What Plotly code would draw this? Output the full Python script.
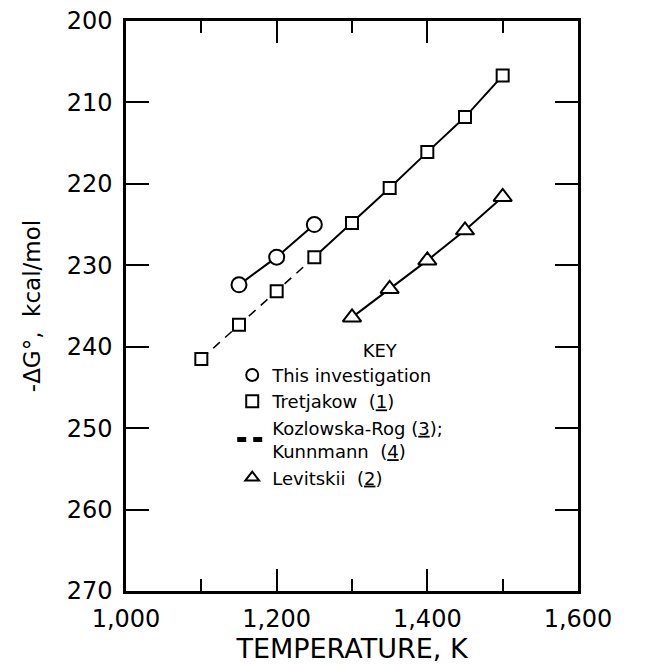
import plotly.graph_objects as go

# ---- data ----
temp_this = [1150, 1200, 1250]
dg_this = [232.4, 229.0, 225.0]

temp_tret = [1100, 1150, 1200, 1250, 1300, 1350, 1400, 1450, 1500]
dg_tret = [241.5, 237.3, 233.2, 229.0, 224.8, 220.5, 216.1, 211.8, 206.7]

# dashed portion (Kozlowska-Rog / Kunnmann) spans the first four Tretjakow points
n_dash = 4

temp_lev = [1300, 1350, 1400, 1450, 1500]
dg_lev = [236.4, 232.9, 229.4, 225.7, 221.6]

x_ticks = [1000, 1200, 1400, 1600]
x_ticktext = ["1,000", "1,200", "1,400", "1,600"]
y_ticks = [200, 210, 220, 230, 240, 250, 260, 270]

names = [
    "This investigation",
    "Tretjakow  (<u>1</u>)",
    "Kozlowska-Rog (<u>3</u>);<br>Kunnmann  (<u>4</u>)",
    "Levitskii  (<u>2</u>)",
]
key_title = "\u00a0" * 14 + "KEY"

FONT = "DejaVu Sans"
BLK = "black"

fig = go.Figure()

line_style = dict(color=BLK, width=2)

# connecting lines
fig.add_trace(go.Scatter(x=temp_this, y=dg_this, mode="lines", line=line_style,
                         showlegend=False, hoverinfo="skip"))
fig.add_trace(go.Scatter(x=temp_tret[n_dash - 1:], y=dg_tret[n_dash - 1:], mode="lines",
                         line=line_style, showlegend=False, hoverinfo="skip"))
fig.add_trace(go.Scatter(x=temp_tret[:n_dash], y=dg_tret[:n_dash], mode="lines",
                         line=dict(color=BLK, width=1.6, dash="9px,7px"),
                         name=names[2], legendrank=3))
fig.add_trace(go.Scatter(x=temp_lev, y=dg_lev, mode="lines", line=line_style,
                         showlegend=False, hoverinfo="skip"))

# markers
fig.add_trace(go.Scatter(x=temp_this, y=dg_this, mode="markers", name=names[0],
                         legendrank=1,
                         marker=dict(symbol="circle", size=15, color="white",
                                     line=dict(color=BLK, width=2))))
fig.add_trace(go.Scatter(x=temp_tret, y=dg_tret, mode="markers", name=names[1],
                         legendrank=2,
                         marker=dict(symbol="square", size=12, color="white",
                                     line=dict(color=BLK, width=2))))
fig.add_trace(go.Scatter(x=temp_lev, y=dg_lev, mode="markers", name=names[3],
                         legendrank=4,
                         marker=dict(symbol="triangle-up", size=16, color="white",
                                     line=dict(color=BLK, width=2))))

fig.update_layout(
    width=662, height=664,
    margin=dict(l=126, r=84, t=21, b=73, autoexpand=False),
    paper_bgcolor="white", plot_bgcolor="white",
    font=dict(family=FONT, size=24, color=BLK),
    legend=dict(
        x=0.235, y=0.452, xanchor="left", yanchor="top",
        bgcolor="rgba(0,0,0,0)", borderwidth=0,
        font=dict(size=18, family=FONT, color=BLK),
        title=dict(text=key_title, side="top center", font=dict(size=18, family=FONT)),
        itemsizing="constant",
        tracegroupgap=0,
    ),
    xaxis=dict(
        range=[1000, 1600], tickvals=x_ticks, ticktext=x_ticktext,
        ticks="inside", ticklen=22, tickwidth=2, tickcolor=BLK,
        showline=True, linewidth=2.5, linecolor=BLK, mirror="allticks",
        showgrid=False, zeroline=False, automargin=False,
        minor=dict(dtick=100, ticks="inside", ticklen=12, tickwidth=2,
                   tickcolor=BLK, showgrid=False),
        ticklabelstandoff=4,
        tickfont=dict(size=24),
        title=dict(text="TEMPERATURE, K", font=dict(size=27), standoff=11),
    ),
    yaxis=dict(
        range=[270, 200], tickvals=y_ticks,
        ticks="inside", ticklen=23, tickwidth=2, tickcolor=BLK,
        showline=True, linewidth=2.5, linecolor=BLK, mirror="allticks",
        showgrid=False, zeroline=False, automargin=False,
        ticklabelstandoff=6,
        tickfont=dict(size=24),
        title=dict(text="-\u0394G\u00b0,  kcal/mol", font=dict(size=23), standoff=20),
    ),
)

fig.write_html("out.html")
